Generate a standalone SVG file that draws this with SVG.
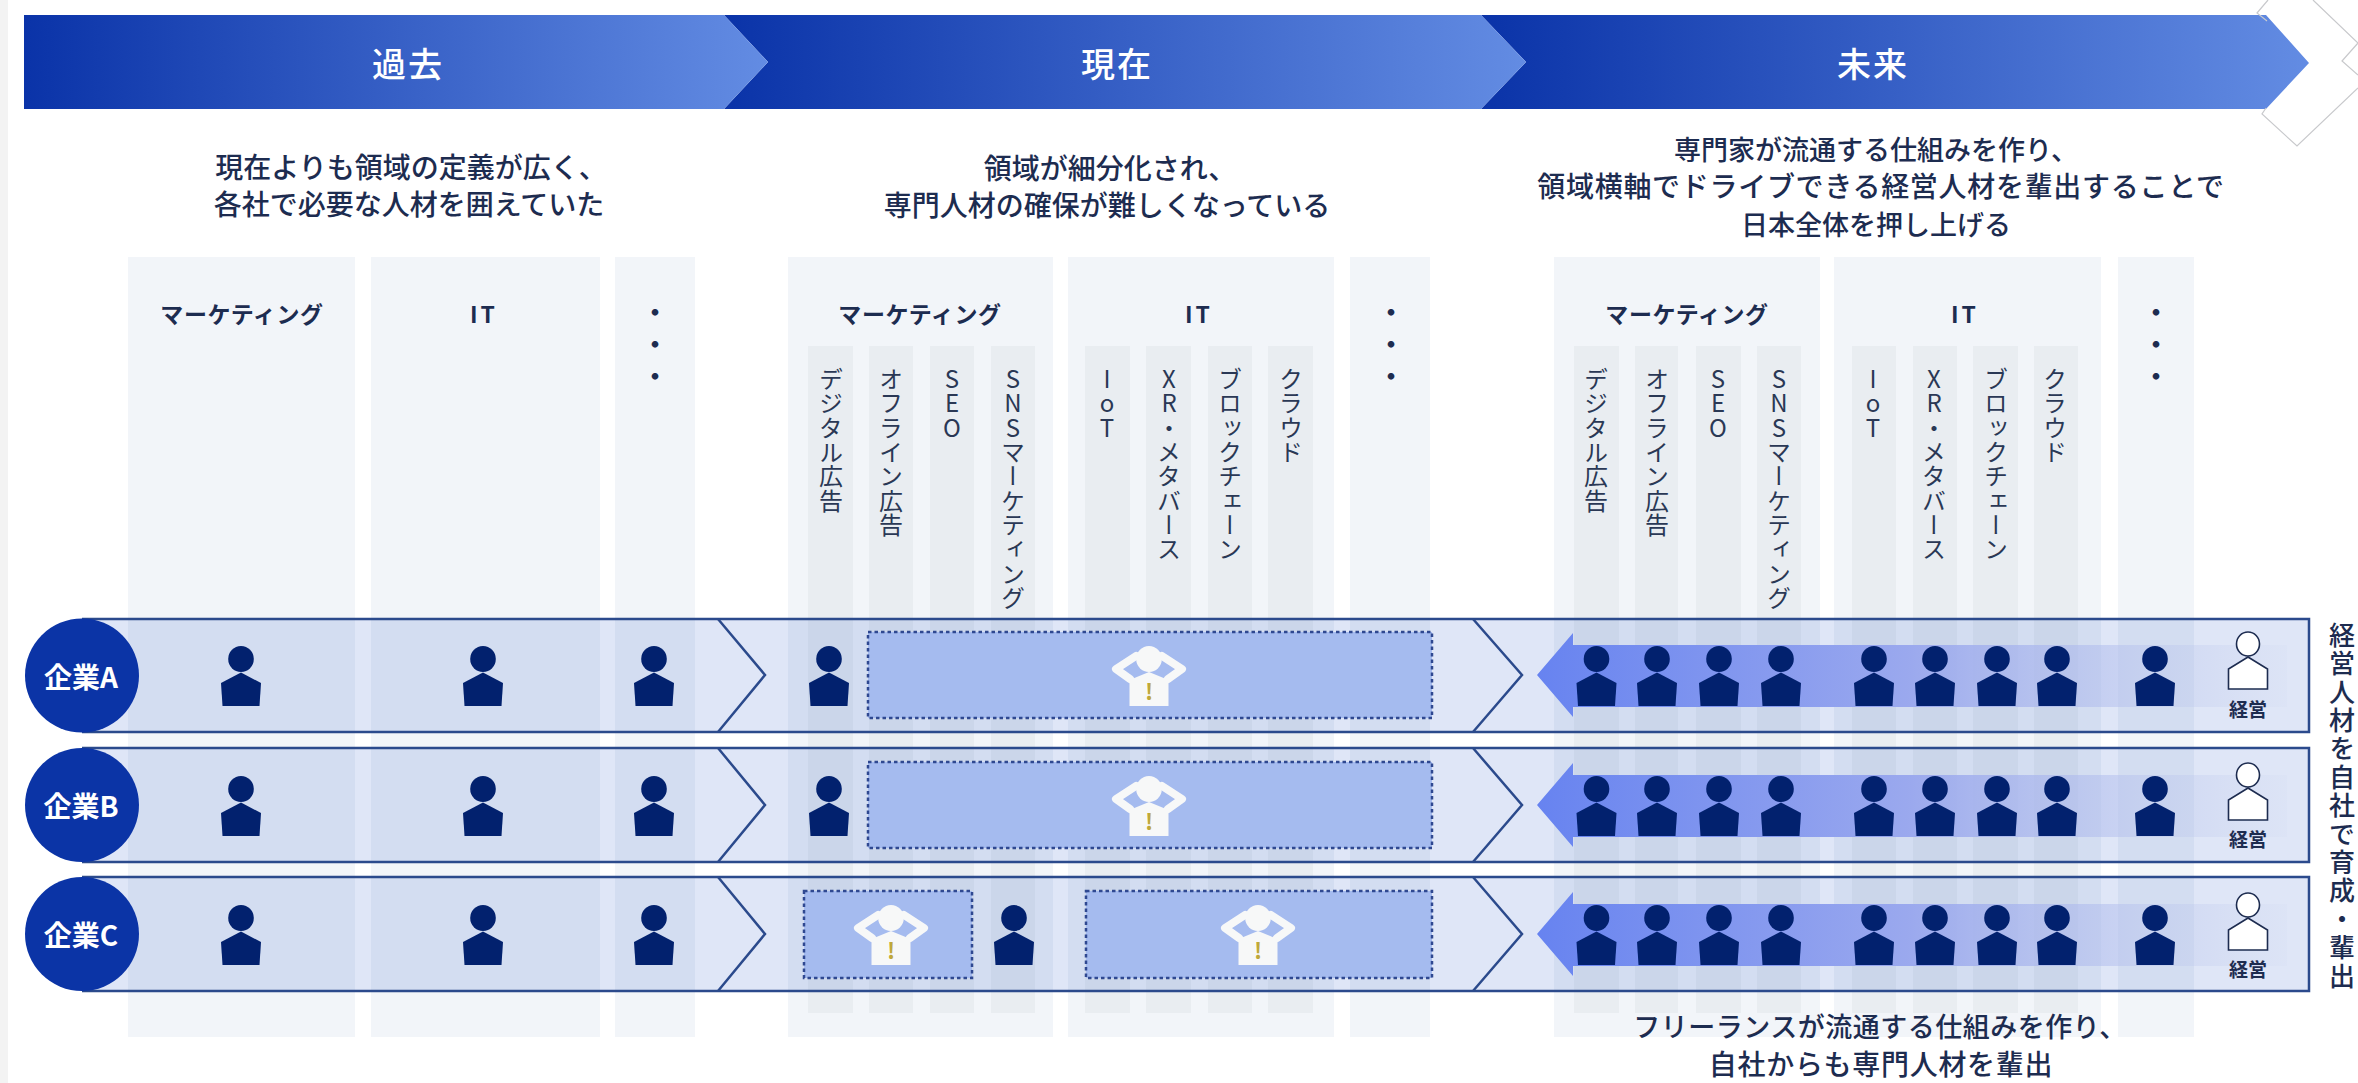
<svg xmlns="http://www.w3.org/2000/svg" width="2358" height="1083" viewBox="0 0 2358 1083">
<style>
text{font-family:"Noto Sans CJK JP","Noto Sans",sans-serif;fill:#1d2c50}
.h{font-size:34px;font-weight:500;fill:#fff;text-anchor:middle;dominant-baseline:central;letter-spacing:2px}
.s{font-size:27px;font-weight:500;text-anchor:middle;dominant-baseline:central}
.s28{font-size:28px}.wide{font-size:28px;letter-spacing:.7px}
.c{font-size:23px;font-weight:700;text-anchor:middle;dominant-baseline:central;letter-spacing:.6px}
.it{letter-spacing:3px}
.d{font-size:26px;font-weight:700;writing-mode:vertical-rl;text-orientation:upright;letter-spacing:6px}
.v{font-size:24px;writing-mode:vertical-rl;text-orientation:upright;fill:#2a3855;letter-spacing:.3px}
.col{fill:#f2f5f9}.sub{fill:#e9edf1}
.band{fill:#0a3cbe;fill-opacity:.13}
.edge{fill:none;stroke:#2b4a8c;stroke-width:2.5}
.co{fill:#0b34a6}.cot{font-size:28px;font-weight:700;fill:#fff;text-anchor:middle;dominant-baseline:central}
.box{fill:#a5bbef;stroke:#2f4891;stroke-width:2.500;stroke-dasharray:3.500 3}
.ex{font-size:22px;font-weight:700;fill:#bfa83a;text-anchor:middle;dominant-baseline:central}
.m{font-size:19px;font-weight:700;text-anchor:middle;dominant-baseline:central}
</style>
<defs>
<linearGradient id="hg"><stop offset="0" stop-color="#0a33a8"/><stop offset="1" stop-color="#638ce3"/></linearGradient>
<linearGradient id="ag"><stop offset="0" stop-color="#6783f0"/><stop offset=".5" stop-color="#9ba9ee"/><stop offset="1" stop-color="#c5cfec" stop-opacity=".1"/></linearGradient>
<g id="p"><ellipse cx="0" cy="12" rx="12.800" ry="13" fill="#02216e"/><polygon points="0,25.500 20,36 18.500,59 -18.500,59 -20,36" fill="#02216e"/></g>
<g id="w"><ellipse cx="0" cy="12" rx="12.800" ry="13" fill="#f7f8f8"/><path d="M-13,9 L-33,22 L-19,32 M13,9 L33,22 L19,32" fill="none" stroke="#f7f8f8" stroke-width="8" stroke-linecap="round" stroke-linejoin="round"/><polygon points="-19.500,33 0,25 19.500,33 19.500,59 -19.500,59" fill="#f7f8f8"/></g>
<g id="e"><ellipse cx="0" cy="12" rx="11.500" ry="12" fill="#fff" stroke="#1d2c50" stroke-width="1.600"/><polygon points="0,25 19.500,37 19.500,57 -19.500,57 -19.500,37" fill="#fff" stroke="#1d2c50" stroke-width="1.600"/></g>
<polygon id="arrow" points="1537,675 1573,633 1573,645 2287,645 2287,707 1573,707 1573,717" fill="url(#ag)"/>
</defs>
<rect width="2358" height="1083" fill="#fff"/>
<rect width="8" height="1083" fill="#f3f3f3"/>

<g id="headers">
<g id="header-future"><polygon points="1481,15 2266,15 2309,63 2266,109 1481,109 1526,62" fill="url(#hg)"/><text class="h" x="1873" y="62">未来</text></g>
<g id="header-present"><polygon points="724,15 1481,15 1526,62 1481,109 724,109 768,62" fill="url(#hg)"/><text class="h" x="1117" y="62">現在</text></g>
<g id="header-past"><polygon points="24,15 724,15 768,62 724,109 24,109" fill="url(#hg)"/><text class="h" x="408" y="62">過去</text></g>
<path d="M2268,0 L2257,13 L2267,21 M2266,108 L2262,114 L2297,146 L2358,88 M2313,0 L2358,43 L2342,61 L2358,75" fill="none" stroke="#c8c9cc" stroke-width="1.200"/>
</g>

<g id="descriptions">
<text class="s s28" x="411" y="166">現在よりも領域の定義が広く、</text>
<text class="s s28" x="409" y="203">各社で必要な人材を囲えていた</text>
<text class="s s28" x="1110" y="167">領域が細分化され、</text>
<text class="s s28" x="1107" y="204">専門人材の確保が難しくなっている</text>
<text class="s" x="1876" y="148">専門家が流通する仕組みを作り、</text>
<text class="s wide" x="1881" y="185">領域横軸でドライブできる経営人材を輩出することで</text>
<text class="s" x="1876" y="223">日本全体を押し上げる</text>
</g>

<g id="columns-past">
<rect class="col" x="128" y="257" width="227" height="780"/>
<rect class="col" x="371" y="257" width="229" height="780"/>
<rect class="col" x="615" y="257" width="80" height="780"/>
<text class="c" x="242" y="313">マーケティング</text>
<text class="c it" x="484" y="313">IT</text>
<text class="d" x="655" y="299">・・・</text>
</g>

<g id="columns-present">
<rect class="col" x="788" y="257" width="265" height="780"/>
<rect class="col" x="1068" y="257" width="266" height="780"/>
<rect class="col" x="1350" y="257" width="80" height="780"/>
<rect class="sub" x="808" y="346" width="45" height="667"/>
<rect class="sub" x="869" y="346" width="44" height="667"/>
<rect class="sub" x="930" y="346" width="44" height="667"/>
<rect class="sub" x="991" y="346" width="44" height="667"/>
<rect class="sub" x="1085" y="346" width="45" height="667"/>
<rect class="sub" x="1146" y="346" width="45" height="667"/>
<rect class="sub" x="1208" y="346" width="44" height="667"/>
<rect class="sub" x="1268" y="346" width="45" height="667"/>
<text class="c" x="920" y="313">マーケティング</text>
<text class="c it" x="1199" y="313">IT</text>
<text class="d" x="1391" y="299">・・・</text>
<text class="v" x="831" y="367">デジタル広告</text>
<text class="v" x="891" y="367">オフライン広告</text>
<text class="v" x="952" y="367">SEO</text>
<text class="v" x="1013" y="367">SNSマーケティング</text>
<text class="v" x="1107" y="367">IoT</text>
<text class="v" x="1169" y="367">XR・メタバース</text>
<text class="v" x="1230" y="367">ブロックチェーン</text>
<text class="v" x="1291" y="367">クラウド</text>
</g>

<g id="columns-future">
<rect class="col" x="1554" y="257" width="266" height="780"/>
<rect class="col" x="1834" y="257" width="267" height="780"/>
<rect class="col" x="2118" y="257" width="76" height="780"/>
<rect class="sub" x="1574" y="346" width="45" height="667"/>
<rect class="sub" x="1635" y="346" width="43" height="667"/>
<rect class="sub" x="1696" y="346" width="45" height="667"/>
<rect class="sub" x="1757" y="346" width="44" height="667"/>
<rect class="sub" x="1852" y="346" width="44" height="667"/>
<rect class="sub" x="1913" y="346" width="44" height="667"/>
<rect class="sub" x="1973" y="346" width="45" height="667"/>
<rect class="sub" x="2034" y="346" width="44" height="667"/>
<text class="c" x="1687" y="313">マーケティング</text>
<text class="c it" x="1965" y="313">IT</text>
<text class="d" x="2156" y="299">・・・</text>
<text class="v" x="1596" y="367">デジタル広告</text>
<text class="v" x="1657" y="367">オフライン広告</text>
<text class="v" x="1718" y="367">SEO</text>
<text class="v" x="1779" y="367">SNSマーケティング</text>
<text class="v" x="1873" y="367">IoT</text>
<text class="v" x="1934" y="367">XR・メタバース</text>
<text class="v" x="1996" y="367">ブロックチェーン</text>
<text class="v" x="2055" y="367">クラウド</text>
</g>

<g id="bands">
<rect class="band" x="82" y="619" width="2227" height="113"/>
<rect class="band" x="82" y="748" width="2227" height="114"/>
<rect class="band" x="82" y="877" width="2227" height="114"/>
</g>

<g id="connectors">
<path class="edge" d="M82,619 H2309 V732 H82"/>
<path class="edge" d="M82,748 H2309 V862 H82"/>
<path class="edge" d="M82,877 H2309 V991 H82"/>
<path class="edge" d="M718,619 L765,675 L718,732 M1473,619 L1522,675 L1473,732"/>
<path class="edge" d="M718,748 L765,805 L718,862 M1473,748 L1522,805 L1473,862"/>
<path class="edge" d="M718,877 L765,934 L718,991 M1473,877 L1522,934 L1473,991"/>
<use href="#arrow"/>
<use href="#arrow" y="130"/>
<use href="#arrow" y="259"/>
</g>

<g id="company-a">
<circle class="co" cx="82" cy="675.500" r="57"/><text class="cot" x="81" y="676">企業A</text>
<use href="#p" x="241" y="647"/><use href="#p" x="483" y="647"/><use href="#p" x="654" y="647"/>
<use href="#p" x="829" y="647"/>
<rect class="box" x="868" y="632" width="564" height="86"/>
<use href="#w" x="1149" y="647"/><text class="ex" x="1149" y="690">!</text>
<use href="#p" x="1596.500" y="647"/><use href="#p" x="1657" y="647"/><use href="#p" x="1719" y="647"/><use href="#p" x="1781" y="647"/><use href="#p" x="1874" y="647"/><use href="#p" x="1935" y="647"/><use href="#p" x="1997" y="647"/><use href="#p" x="2057" y="647"/><use href="#p" x="2155" y="647"/>
<use href="#e" x="2248" y="632"/><text class="m" x="2248" y="708">経営</text>
</g>

<g id="company-b">
<circle class="co" cx="82" cy="805" r="57"/><text class="cot" x="81" y="805">企業B</text>
<use href="#p" x="241" y="777"/><use href="#p" x="483" y="777"/><use href="#p" x="654" y="777"/>
<use href="#p" x="829" y="777"/>
<rect class="box" x="868" y="762" width="564" height="86"/>
<use href="#w" x="1149" y="777"/><text class="ex" x="1149" y="820">!</text>
<use href="#p" x="1596.500" y="777"/><use href="#p" x="1657" y="777"/><use href="#p" x="1719" y="777"/><use href="#p" x="1781" y="777"/><use href="#p" x="1874" y="777"/><use href="#p" x="1935" y="777"/><use href="#p" x="1997" y="777"/><use href="#p" x="2057" y="777"/><use href="#p" x="2155" y="777"/>
<use href="#e" x="2248" y="763"/><text class="m" x="2248" y="838">経営</text>
</g>

<g id="company-c">
<circle class="co" cx="82" cy="934" r="57"/><text class="cot" x="81" y="934">企業C</text>
<use href="#p" x="241" y="906"/><use href="#p" x="483" y="906"/><use href="#p" x="654" y="906"/>
<rect class="box" x="804" y="891" width="168" height="87"/>
<use href="#w" x="891" y="906"/><text class="ex" x="891" y="949">!</text>
<use href="#p" x="1014" y="906"/>
<rect class="box" x="1086" y="891" width="346" height="87"/>
<use href="#w" x="1258" y="906"/><text class="ex" x="1258" y="949">!</text>
<use href="#p" x="1596.500" y="906"/><use href="#p" x="1657" y="906"/><use href="#p" x="1719" y="906"/><use href="#p" x="1781" y="906"/><use href="#p" x="1874" y="906"/><use href="#p" x="1935" y="906"/><use href="#p" x="1997" y="906"/><use href="#p" x="2057" y="906"/><use href="#p" x="2155" y="906"/>
<use href="#e" x="2248" y="893"/><text class="m" x="2248" y="968">経営</text>
</g>

<g id="notes">
<text x="2342" y="622" style="font-size:26px;font-weight:500;writing-mode:vertical-rl;letter-spacing:2.400px">経営人材を自社で育成・輩出</text>
<text class="s" style="letter-spacing:.5px" x="1880" y="1025">フリーランスが流通する仕組みを作り、</text>
<text class="s wide" x="1881" y="1063">自社からも専門人材を輩出</text>
</g>
</svg>
